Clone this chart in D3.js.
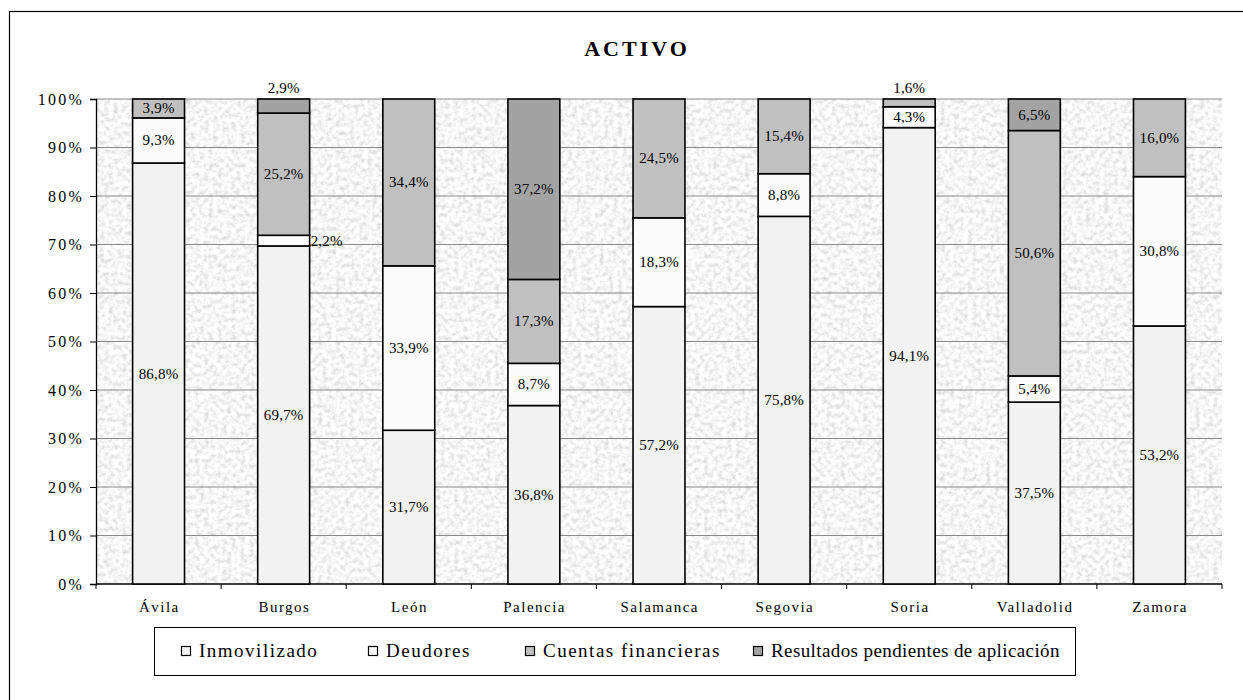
<!DOCTYPE html>
<html>
<head>
<meta charset="utf-8">
<script src="https://cdn.jsdelivr.net/npm/d3@7"></script>
<style>
  body { margin: 0; background: #fff; }
  svg, svg text { font-family: "Liberation Serif", "Times New Roman", serif; }
</style>
</head>
<body>
<script>
// datos
var provincias = ["Ávila", "Burgos", "León", "Palencia", "Salamanca", "Segovia", "Soria", "Valladolid", "Zamora"];
var series = ["Inmovilizado", "Deudores", "Cuentas financieras", "Resultados pendientes de aplicación"];
var inmovilizado = [86.8, 69.7, 31.7, 36.8, 57.2, 75.8, 94.1, 37.5, 53.2];
var deudores = [9.3, 2.2, 33.9, 8.7, 18.3, 8.8, 4.3, 5.4, 30.8];
var cuentasFinancieras = [3.9, 25.2, 34.4, 17.3, 24.5, 15.4, 1.6, 50.6, 16.0];
var resultados = [0, 2.9, 0, 37.2, 0, 0, 0, 6.5, 0];
var yTicks = [0, 10, 20, 30, 40, 50, 60, 70, 80, 90, 100];
var colores = ["#f2f2f2", "#fbfbfb", "#c0c0c0", "#a3a3a3"];

var W = 1243, H = 700;
var margin = { left: 96, top: 99, right: 21, bottom: 116 };
var serif = "Liberation Serif";

var svg = d3.select("body").append("svg").attr("width", W).attr("height", H);

// textura de fondo
var defs = svg.append("defs");
var f = defs.append("filter").attr("id", "granito").attr("x", 0).attr("y", 0).attr("width", 1).attr("height", 1);
f.append("feTurbulence").attr("type", "fractalNoise").attr("baseFrequency", 0.22).attr("numOctaves", 3).attr("seed", 11);
f.append("feColorMatrix").attr("type", "matrix")
  .attr("values", "0.62 0 0 0 0.61  0.62 0 0 0 0.61  0.62 0 0 0 0.61  0 0 0 0 1");

// marco exterior
svg.append("rect").attr("x", 9.5).attr("y", 11.5).attr("width", W).attr("height", H)
  .attr("fill", "none").attr("stroke", "#000").attr("stroke-width", 1.2);

svg.append("text").attr("x", 637).attr("y", 56).attr("text-anchor", "middle")
  .style("font-family", serif).attr("font-size", 22).attr("font-weight", "bold")
  .attr("letter-spacing", 3).text("ACTIVO");

var x = d3.scaleBand().domain(provincias).range([margin.left, W - margin.right]).paddingInner(0.585).paddingOuter(0.2925);
var y = d3.scaleLinear().domain([0, 100]).range([H - margin.bottom, margin.top]);

var g = svg.append("g");
g.append("rect").attr("x", margin.left).attr("y", margin.top)
  .attr("width", W - margin.right - margin.left).attr("height", y(0) - y(100))
  .attr("filter", "url(#granito)");

// rejilla
g.selectAll(".grid").data(yTicks.slice(1)).enter().append("line")
  .attr("x1", margin.left).attr("x2", W - margin.right)
  .attr("y1", function (d) { return y(d); }).attr("y2", function (d) { return y(d); })
  .attr("stroke", "#8a8a8a").attr("stroke-width", 1);

// eje y
var yAxis = d3.axisLeft(y).tickValues(yTicks).tickSize(6).tickFormat(function (d) { return d + "%"; });
var ya = svg.append("g").attr("transform", "translate(" + margin.left + ",0)").call(yAxis);
ya.select(".domain").attr("stroke", "#000").attr("stroke-width", 1.3);
ya.selectAll(".tick line").attr("stroke", "#000");
ya.selectAll(".tick text").style("font-family", serif).attr("font-size", 16).attr("fill", "#000")
  .attr("letter-spacing", 2.2).attr("x", -12);

// eje x
var bandStep = x.step();
var xa = svg.append("g").attr("transform", "translate(0," + y(0) + ")");
xa.append("line").attr("x1", margin.left).attr("x2", W - margin.right).attr("stroke", "#000").attr("stroke-width", 1.3);
xa.selectAll(".xt").data(d3.range(provincias.length + 1)).enter().append("line")
  .attr("x1", function (i) { return margin.left + i * bandStep; })
  .attr("x2", function (i) { return margin.left + i * bandStep; })
  .attr("y1", 0).attr("y2", 5).attr("stroke", "#000");
xa.selectAll(".xl").data(provincias).enter().append("text")
  .attr("x", function (d) { return x(d) + x.bandwidth() / 2 + 0.75; })
  .attr("y", 28).attr("text-anchor", "middle").style("font-family", serif).attr("font-size", 15)
  .attr("letter-spacing", 1.5).text(function (d) { return d; });

// barras apiladas
var valores = [inmovilizado, deudores, cuentasFinancieras, resultados];
var filas = provincias.map(function (p, i) {
  var o = { provincia: p };
  series.forEach(function (s, k) { o[s] = valores[k][i]; });
  return o;
});
var stack = d3.stack().keys(series)(filas);

var capas = svg.selectAll(".capa").data(stack).enter().append("g")
  .attr("fill", function (d, k) { return colores[k]; });
capas.selectAll("rect").data(function (d) { return d.filter(function (s) { return s[1] - s[0] > 0; }); }).enter().append("rect")
  .attr("x", function (d) { return x(d.data.provincia); })
  .attr("width", x.bandwidth())
  .attr("y", function (d) { return y(d[1]); })
  .attr("height", function (d) { return y(d[0]) - y(d[1]); })
  .attr("stroke", "#000").attr("stroke-width", 1.6);

// etiquetas
var fmt = function (v) { return v.toFixed(1).replace(".", ",") + "%"; };
var etiquetas = svg.append("g");
stack.forEach(function (capa, k) {
  capa.forEach(function (s) {
    var v = s[1] - s[0];
    if (v <= 0) return;
    var cx = x(s.data.provincia) + x.bandwidth() / 2;
    var cy = (y(s[0]) + y(s[1])) / 2 + 5;
    var anchor = "middle";
    // segmentos muy pequeños: encima de la barra o a la derecha
    if (v < 3.5 && s[1] >= 99.9) { cy = y(100) - 6; }
    else if (v < 2.5) { cx = x(s.data.provincia) + x.bandwidth() + 1; anchor = "start"; }
    etiquetas.append("text").attr("x", cx).attr("y", cy).attr("text-anchor", anchor)
      .style("font-family", serif).attr("font-size", 15).attr("letter-spacing", 0.2).text(fmt(v));
  });
});

// leyenda
var lg = svg.append("g");
lg.append("rect").attr("x", 154.5).attr("y", 627.5).attr("width", 921).attr("height", 48)
  .attr("fill", "#fff").attr("stroke", "#000").attr("stroke-width", 1);
var legX = [181, 368, 525, 753];
var legSpacing = [1.5, 1.5, 1.5, 0.4];
series.forEach(function (s, k) {
  lg.append("rect").attr("x", legX[k] + 0.5).attr("y", 646.5).attr("width", 9).attr("height", 9)
    .attr("fill", colores[k]).attr("stroke", "#000").attr("stroke-width", 1.2);
  lg.append("text").attr("x", legX[k] + 18).attr("y", 657).style("font-family", serif)
    .attr("font-size", 19).attr("letter-spacing", legSpacing[k]).text(s);
});
</script>
</body>
</html>
